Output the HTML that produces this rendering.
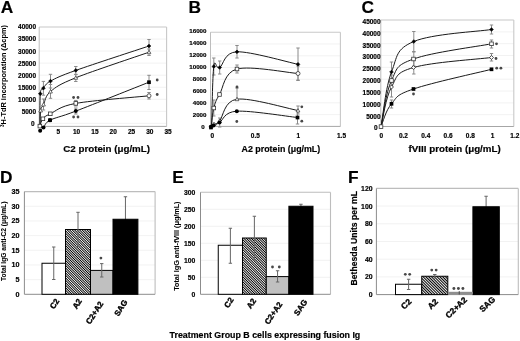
<!DOCTYPE html><html><head><meta charset="utf-8"><style>html,body{margin:0;padding:0;background:#fff;width:520px;height:341px;overflow:hidden}svg{display:block;will-change:transform}text{font-family:"Liberation Sans", sans-serif}</style></head><body>
<svg width="520" height="341" viewBox="0 0 520 341">
<defs><pattern id="hatch" patternUnits="userSpaceOnUse" width="1.75" height="1.75" patternTransform="rotate(-45)"><rect width="1.75" height="1.75" fill="#fff"/><rect x="0" y="0" width="0.92" height="1.75" fill="#000"/></pattern><pattern id="hatchF" patternUnits="userSpaceOnUse" width="1.98" height="1.98" patternTransform="rotate(-45)"><rect width="1.98" height="1.98" fill="#fff"/><rect x="0" y="0" width="1.05" height="1.98" fill="#000"/></pattern></defs>
<rect width="520" height="341" fill="#fff"/>
<text x="0.8" y="13.3" font-size="17.3" text-anchor="start" font-weight="bold" fill="#000" stroke="#000" stroke-width="0.18">A</text>
<text x="188.4" y="13.3" font-size="17.3" text-anchor="start" font-weight="bold" fill="#000" stroke="#000" stroke-width="0.18">B</text>
<text x="361.6" y="13.4" font-size="17.3" text-anchor="start" font-weight="bold" fill="#000" stroke="#000" stroke-width="0.18">C</text>
<text x="0.1" y="182.9" font-size="17.3" text-anchor="start" font-weight="bold" fill="#000" stroke="#000" stroke-width="0.18">D</text>
<text x="172.3" y="183.1" font-size="17.3" text-anchor="start" font-weight="bold" fill="#000" stroke="#000" stroke-width="0.18">E</text>
<text x="348.1" y="183.1" font-size="17.3" text-anchor="start" font-weight="bold" fill="#000" stroke="#000" stroke-width="0.18">F</text>
<line x1="39.2" y1="39.05" x2="166.6" y2="39.05" stroke="#f1f1f1" stroke-width="0.9"/>
<line x1="39.2" y1="51.1" x2="166.6" y2="51.1" stroke="#f1f1f1" stroke-width="0.9"/>
<line x1="39.2" y1="63.15" x2="166.6" y2="63.15" stroke="#f1f1f1" stroke-width="0.9"/>
<line x1="39.2" y1="75.2" x2="166.6" y2="75.2" stroke="#f1f1f1" stroke-width="0.9"/>
<line x1="39.2" y1="87.25" x2="166.6" y2="87.25" stroke="#f1f1f1" stroke-width="0.9"/>
<line x1="39.2" y1="99.3" x2="166.6" y2="99.3" stroke="#f1f1f1" stroke-width="0.9"/>
<line x1="39.2" y1="111.35" x2="166.6" y2="111.35" stroke="#f1f1f1" stroke-width="0.9"/>
<line x1="39.2" y1="123.4" x2="166.6" y2="123.4" stroke="#f1f1f1" stroke-width="0.9"/>
<line x1="39.2" y1="27" x2="166.6" y2="27" stroke="#c8c8c8" stroke-width="1.1"/>
<line x1="166.6" y1="27" x2="166.6" y2="126.4" stroke="#c8c8c8" stroke-width="1.1"/>
<line x1="39.2" y1="27" x2="39.2" y2="126.4" stroke="#bdbdbd" stroke-width="1"/>
<line x1="39.2" y1="126.4" x2="166.6" y2="126.4" stroke="#a6a6a6" stroke-width="1"/>
<text x="36.1" y="29.32" font-size="6.5" text-anchor="end" font-weight="bold" fill="#000" stroke="#000" stroke-width="0.18">40000</text>
<text x="36.1" y="41.42" font-size="6.5" text-anchor="end" font-weight="bold" fill="#000" stroke="#000" stroke-width="0.18">35000</text>
<text x="36.1" y="53.52" font-size="6.5" text-anchor="end" font-weight="bold" fill="#000" stroke="#000" stroke-width="0.18">30000</text>
<text x="36.1" y="65.62" font-size="6.5" text-anchor="end" font-weight="bold" fill="#000" stroke="#000" stroke-width="0.18">25000</text>
<text x="36.1" y="77.73" font-size="6.5" text-anchor="end" font-weight="bold" fill="#000" stroke="#000" stroke-width="0.18">20000</text>
<text x="36.1" y="89.83" font-size="6.5" text-anchor="end" font-weight="bold" fill="#000" stroke="#000" stroke-width="0.18">15000</text>
<text x="36.1" y="101.92" font-size="6.5" text-anchor="end" font-weight="bold" fill="#000" stroke="#000" stroke-width="0.18">10000</text>
<text x="36.1" y="114.03" font-size="6.5" text-anchor="end" font-weight="bold" fill="#000" stroke="#000" stroke-width="0.18">5000</text>
<text x="34.7" y="126.12" font-size="6.5" text-anchor="end" font-weight="bold" fill="#000" stroke="#000" stroke-width="0.18">0</text>
<text x="58.3" y="134" font-size="6.5" text-anchor="middle" font-weight="bold" fill="#000" stroke="#000" stroke-width="0.18">5</text>
<text x="76.6" y="134" font-size="6.5" text-anchor="middle" font-weight="bold" fill="#000" stroke="#000" stroke-width="0.18">10</text>
<text x="94.9" y="134" font-size="6.5" text-anchor="middle" font-weight="bold" fill="#000" stroke="#000" stroke-width="0.18">15</text>
<text x="113.2" y="134" font-size="6.5" text-anchor="middle" font-weight="bold" fill="#000" stroke="#000" stroke-width="0.18">20</text>
<text x="131.5" y="134" font-size="6.5" text-anchor="middle" font-weight="bold" fill="#000" stroke="#000" stroke-width="0.18">25</text>
<text x="149.8" y="134" font-size="6.5" text-anchor="middle" font-weight="bold" fill="#000" stroke="#000" stroke-width="0.18">30</text>
<text x="168.1" y="134" font-size="6.5" text-anchor="middle" font-weight="bold" fill="#000" stroke="#000" stroke-width="0.18">35</text>
<text x="63.3" y="151.8" font-size="9.75" text-anchor="start" font-weight="bold" fill="#000" stroke="#000" stroke-width="0.18">C2 protein (μg/mL)</text>
<text x="6.4" y="76" font-size="7.4" text-anchor="middle" font-weight="bold" fill="#000" transform="rotate(-90 6.4 76)" stroke="#000" stroke-width="0.02"><tspan font-size="4.6" dy="-2.4">3</tspan><tspan dy="2.4">H-TdR incorporation (Δcpm)</tspan></text>
<line x1="43.4" y1="81.4" x2="43.4" y2="95.2" stroke="#8a8a8a" stroke-width="1"/>
<line x1="41.7" y1="81.4" x2="45.1" y2="81.4" stroke="#8a8a8a" stroke-width="1"/>
<line x1="41.7" y1="95.2" x2="45.1" y2="95.2" stroke="#8a8a8a" stroke-width="1"/>
<line x1="50.5" y1="74.3" x2="50.5" y2="88" stroke="#8a8a8a" stroke-width="1"/>
<line x1="48.8" y1="74.3" x2="52.2" y2="74.3" stroke="#8a8a8a" stroke-width="1"/>
<line x1="48.8" y1="88" x2="52.2" y2="88" stroke="#8a8a8a" stroke-width="1"/>
<line x1="75.8" y1="66.5" x2="75.8" y2="74.3" stroke="#8a8a8a" stroke-width="1"/>
<line x1="74.1" y1="66.5" x2="77.5" y2="66.5" stroke="#8a8a8a" stroke-width="1"/>
<line x1="74.1" y1="74.3" x2="77.5" y2="74.3" stroke="#8a8a8a" stroke-width="1"/>
<line x1="149" y1="39.5" x2="149" y2="52.5" stroke="#8a8a8a" stroke-width="1"/>
<line x1="147.3" y1="39.5" x2="150.7" y2="39.5" stroke="#8a8a8a" stroke-width="1"/>
<line x1="147.3" y1="52.5" x2="150.7" y2="52.5" stroke="#8a8a8a" stroke-width="1"/>
<line x1="50.5" y1="84.5" x2="50.5" y2="98.3" stroke="#8a8a8a" stroke-width="1"/>
<line x1="48.8" y1="84.5" x2="52.2" y2="84.5" stroke="#8a8a8a" stroke-width="1"/>
<line x1="48.8" y1="98.3" x2="52.2" y2="98.3" stroke="#8a8a8a" stroke-width="1"/>
<line x1="75.8" y1="74.5" x2="75.8" y2="81.5" stroke="#8a8a8a" stroke-width="1"/>
<line x1="74.1" y1="74.5" x2="77.5" y2="74.5" stroke="#8a8a8a" stroke-width="1"/>
<line x1="74.1" y1="81.5" x2="77.5" y2="81.5" stroke="#8a8a8a" stroke-width="1"/>
<line x1="43.5" y1="99" x2="43.5" y2="110" stroke="#8a8a8a" stroke-width="1"/>
<line x1="41.8" y1="99" x2="45.2" y2="99" stroke="#8a8a8a" stroke-width="1"/>
<line x1="41.8" y1="110" x2="45.2" y2="110" stroke="#8a8a8a" stroke-width="1"/>
<line x1="149" y1="49" x2="149" y2="55.5" stroke="#8a8a8a" stroke-width="1"/>
<line x1="147.3" y1="49" x2="150.7" y2="49" stroke="#8a8a8a" stroke-width="1"/>
<line x1="147.3" y1="55.5" x2="150.7" y2="55.5" stroke="#8a8a8a" stroke-width="1"/>
<line x1="149" y1="75.3" x2="149" y2="89.5" stroke="#8a8a8a" stroke-width="1"/>
<line x1="147.3" y1="75.3" x2="150.7" y2="75.3" stroke="#8a8a8a" stroke-width="1"/>
<line x1="147.3" y1="89.5" x2="150.7" y2="89.5" stroke="#8a8a8a" stroke-width="1"/>
<line x1="149" y1="92.5" x2="149" y2="99" stroke="#8a8a8a" stroke-width="1"/>
<line x1="147.3" y1="92.5" x2="150.7" y2="92.5" stroke="#8a8a8a" stroke-width="1"/>
<line x1="147.3" y1="99" x2="150.7" y2="99" stroke="#8a8a8a" stroke-width="1"/>
<line x1="75.8" y1="100.5" x2="75.8" y2="106" stroke="#8a8a8a" stroke-width="1"/>
<line x1="74.1" y1="100.5" x2="77.5" y2="100.5" stroke="#8a8a8a" stroke-width="1"/>
<line x1="74.1" y1="106" x2="77.5" y2="106" stroke="#8a8a8a" stroke-width="1"/>
<line x1="75.8" y1="108" x2="75.8" y2="114" stroke="#8a8a8a" stroke-width="1"/>
<line x1="74.1" y1="108" x2="77.5" y2="108" stroke="#8a8a8a" stroke-width="1"/>
<line x1="74.1" y1="114" x2="77.5" y2="114" stroke="#8a8a8a" stroke-width="1"/>
<path d="M40 126 C40.05 120.62 39.73 100.05 40.3 93.75 C40.87 87.45 41.7 90.31 43.4 88.2 C45.1 86.09 45.1 84.07 50.5 81.1 C55.9 78.13 59.38 76.25 75.8 70.4 C92.22 64.55 136.8 50.07 149 46" fill="none" stroke="#1a1a1a" stroke-width="1"/>
<path d="M40 126 C40.1 123.42 40.02 114.08 40.6 110.5 C41.18 106.92 41.85 107.67 43.5 104.5 C45.15 101.33 45.12 95.96 50.5 91.5 C55.88 87.04 59.38 84.3 75.8 77.75 C92.22 71.2 136.8 56.46 149 52.2" fill="none" stroke="#1a1a1a" stroke-width="1"/>
<path d="M39.85 126.1 C40.36 124.88 41.16 120.85 42.9 118.8 C44.64 116.75 44.82 116.37 50.3 113.8 C55.78 111.23 59.35 106.4 75.8 103.4 C92.25 100.4 136.8 97.07 149 95.8" fill="none" stroke="#1a1a1a" stroke-width="1"/>
<path d="M40.15 130.7 C40.71 130.18 41.86 129.35 43.5 127.6 C45.14 125.85 44.62 122.95 50 120.2 C55.38 117.45 59.3 117.43 75.8 111.1 C92.3 104.77 136.8 87.02 149 82.2" fill="none" stroke="#1a1a1a" stroke-width="1"/>
<path d="M40.3 91.9L42.15 93.75L40.3 95.6L38.45 93.75Z" fill="#000" stroke="#000" stroke-width="0.6"/>
<path d="M43.4 86.35L45.25 88.2L43.4 90.05L41.55 88.2Z" fill="#000" stroke="#000" stroke-width="0.6"/>
<path d="M50.5 79.25L52.35 81.1L50.5 82.95L48.65 81.1Z" fill="#000" stroke="#000" stroke-width="0.6"/>
<path d="M75.8 68.55L77.65 70.4L75.8 72.25L73.95 70.4Z" fill="#000" stroke="#000" stroke-width="0.6"/>
<path d="M149 44.15L150.85 46L149 47.85L147.15 46Z" fill="#000" stroke="#000" stroke-width="0.6"/>
<path d="M40.6 108.6L42.5 112.02L38.7 112.02Z" fill="#fff" stroke="#333" stroke-width="0.7"/>
<path d="M43.5 102.6L45.4 106.02L41.6 106.02Z" fill="#fff" stroke="#333" stroke-width="0.7"/>
<path d="M50.5 89.6L52.4 93.02L48.6 93.02Z" fill="#fff" stroke="#333" stroke-width="0.7"/>
<path d="M75.8 75.85L77.7 79.27L73.9 79.27Z" fill="#fff" stroke="#333" stroke-width="0.7"/>
<path d="M149 50.3L150.9 53.72L147.1 53.72Z" fill="#fff" stroke="#333" stroke-width="0.7"/>
<rect x="38.05" y="124.3" width="3.6" height="3.6" fill="#fff" stroke="#333" stroke-width="0.8"/>
<rect x="41.1" y="117" width="3.6" height="3.6" fill="#fff" stroke="#333" stroke-width="0.8"/>
<rect x="48.5" y="112" width="3.6" height="3.6" fill="#fff" stroke="#333" stroke-width="0.8"/>
<rect x="74" y="101.6" width="3.6" height="3.6" fill="#fff" stroke="#333" stroke-width="0.8"/>
<circle cx="149" cy="95.8" r="2" fill="#fff" stroke="#333" stroke-width="0.8"/>
<circle cx="40.15" cy="130.7" r="2" fill="#000"/>
<circle cx="43.5" cy="127.6" r="2" fill="#000"/>
<circle cx="50" cy="120.2" r="2" fill="#000"/>
<circle cx="75.8" cy="111.1" r="2" fill="#000"/>
<rect x="147.15" y="80.35" width="3.7" height="3.7" fill="#000" stroke="none" stroke-width="1"/>
<rect x="48.15" y="118.35" width="3.7" height="3.7" fill="#000" stroke="none" stroke-width="1"/>
<circle cx="73.6" cy="97.5" r="1.4" fill="#484848"/>
<circle cx="78" cy="97.5" r="1.4" fill="#484848"/>
<circle cx="73.6" cy="117" r="1.4" fill="#484848"/>
<circle cx="78" cy="117" r="1.4" fill="#484848"/>
<circle cx="157.2" cy="80" r="1.4" fill="#484848"/>
<circle cx="157.2" cy="94.5" r="1.4" fill="#484848"/>
<line x1="210.5" y1="43.98" x2="340.4" y2="43.98" stroke="#f1f1f1" stroke-width="0.9"/>
<line x1="210.5" y1="55.75" x2="340.4" y2="55.75" stroke="#f1f1f1" stroke-width="0.9"/>
<line x1="210.5" y1="67.53" x2="340.4" y2="67.53" stroke="#f1f1f1" stroke-width="0.9"/>
<line x1="210.5" y1="79.3" x2="340.4" y2="79.3" stroke="#f1f1f1" stroke-width="0.9"/>
<line x1="210.5" y1="91.08" x2="340.4" y2="91.08" stroke="#f1f1f1" stroke-width="0.9"/>
<line x1="210.5" y1="102.85" x2="340.4" y2="102.85" stroke="#f1f1f1" stroke-width="0.9"/>
<line x1="210.5" y1="114.62" x2="340.4" y2="114.62" stroke="#f1f1f1" stroke-width="0.9"/>
<line x1="210.5" y1="32.2" x2="340.4" y2="32.2" stroke="#c8c8c8" stroke-width="1.1"/>
<line x1="340.4" y1="32.2" x2="340.4" y2="126.4" stroke="#c8c8c8" stroke-width="1.1"/>
<line x1="210.5" y1="32.2" x2="210.5" y2="126.4" stroke="#bdbdbd" stroke-width="1"/>
<line x1="210.5" y1="126.4" x2="340.4" y2="126.4" stroke="#a6a6a6" stroke-width="1"/>
<text x="206.5" y="32.81" font-size="6.2" text-anchor="end" font-weight="bold" fill="#000" stroke="#000" stroke-width="0.18">16000</text>
<text x="206.5" y="44.78" font-size="6.2" text-anchor="end" font-weight="bold" fill="#000" stroke="#000" stroke-width="0.18">14000</text>
<text x="206.5" y="56.75" font-size="6.2" text-anchor="end" font-weight="bold" fill="#000" stroke="#000" stroke-width="0.18">12000</text>
<text x="206.5" y="68.72" font-size="6.2" text-anchor="end" font-weight="bold" fill="#000" stroke="#000" stroke-width="0.18">10000</text>
<text x="206.5" y="80.69" font-size="6.2" text-anchor="end" font-weight="bold" fill="#000" stroke="#000" stroke-width="0.18">8000</text>
<text x="206.5" y="92.66" font-size="6.2" text-anchor="end" font-weight="bold" fill="#000" stroke="#000" stroke-width="0.18">6000</text>
<text x="206.5" y="104.63" font-size="6.2" text-anchor="end" font-weight="bold" fill="#000" stroke="#000" stroke-width="0.18">4000</text>
<text x="206.5" y="116.6" font-size="6.2" text-anchor="end" font-weight="bold" fill="#000" stroke="#000" stroke-width="0.18">2000</text>
<text x="204.6" y="128.57" font-size="6.2" text-anchor="end" font-weight="bold" fill="#000" stroke="#000" stroke-width="0.18">0</text>
<text x="212.2" y="137.7" font-size="6.5" text-anchor="middle" font-weight="bold" fill="#000" stroke="#000" stroke-width="0.18">0</text>
<text x="255.3" y="137.7" font-size="6.5" text-anchor="middle" font-weight="bold" fill="#000" stroke="#000" stroke-width="0.18">0.5</text>
<text x="298.4" y="137.7" font-size="6.5" text-anchor="middle" font-weight="bold" fill="#000" stroke="#000" stroke-width="0.18">1</text>
<text x="341.5" y="137.7" font-size="6.5" text-anchor="middle" font-weight="bold" fill="#000" stroke="#000" stroke-width="0.18">1.5</text>
<text x="241.6" y="151.7" font-size="8.85" text-anchor="start" font-weight="bold" fill="#000" stroke="#000" stroke-width="0.18">A2 protein (μg/mL)</text>
<line x1="213.8" y1="58" x2="213.8" y2="75" stroke="#8a8a8a" stroke-width="1"/>
<line x1="212.1" y1="58" x2="215.5" y2="58" stroke="#8a8a8a" stroke-width="1"/>
<line x1="212.1" y1="75" x2="215.5" y2="75" stroke="#8a8a8a" stroke-width="1"/>
<line x1="219.7" y1="61" x2="219.7" y2="74" stroke="#8a8a8a" stroke-width="1"/>
<line x1="218" y1="61" x2="221.4" y2="61" stroke="#8a8a8a" stroke-width="1"/>
<line x1="218" y1="74" x2="221.4" y2="74" stroke="#8a8a8a" stroke-width="1"/>
<line x1="237" y1="45.5" x2="237" y2="58" stroke="#8a8a8a" stroke-width="1"/>
<line x1="235.3" y1="45.5" x2="238.7" y2="45.5" stroke="#8a8a8a" stroke-width="1"/>
<line x1="235.3" y1="58" x2="238.7" y2="58" stroke="#8a8a8a" stroke-width="1"/>
<line x1="298" y1="48" x2="298" y2="80" stroke="#8a8a8a" stroke-width="1"/>
<line x1="296.3" y1="48" x2="299.7" y2="48" stroke="#8a8a8a" stroke-width="1"/>
<line x1="296.3" y1="80" x2="299.7" y2="80" stroke="#8a8a8a" stroke-width="1"/>
<line x1="237" y1="65" x2="237" y2="73" stroke="#8a8a8a" stroke-width="1"/>
<line x1="235.3" y1="65" x2="238.7" y2="65" stroke="#8a8a8a" stroke-width="1"/>
<line x1="235.3" y1="73" x2="238.7" y2="73" stroke="#8a8a8a" stroke-width="1"/>
<line x1="298" y1="66" x2="298" y2="80.5" stroke="#8a8a8a" stroke-width="1"/>
<line x1="296.3" y1="66" x2="299.7" y2="66" stroke="#8a8a8a" stroke-width="1"/>
<line x1="296.3" y1="80.5" x2="299.7" y2="80.5" stroke="#8a8a8a" stroke-width="1"/>
<line x1="237" y1="88" x2="237" y2="100" stroke="#8a8a8a" stroke-width="1"/>
<line x1="235.3" y1="88" x2="238.7" y2="88" stroke="#8a8a8a" stroke-width="1"/>
<line x1="235.3" y1="100" x2="238.7" y2="100" stroke="#8a8a8a" stroke-width="1"/>
<line x1="298" y1="106" x2="298" y2="114" stroke="#8a8a8a" stroke-width="1"/>
<line x1="296.3" y1="106" x2="299.7" y2="106" stroke="#8a8a8a" stroke-width="1"/>
<line x1="296.3" y1="114" x2="299.7" y2="114" stroke="#8a8a8a" stroke-width="1"/>
<line x1="297.5" y1="111" x2="297.5" y2="124" stroke="#8a8a8a" stroke-width="1"/>
<line x1="295.8" y1="111" x2="299.2" y2="111" stroke="#8a8a8a" stroke-width="1"/>
<line x1="295.8" y1="124" x2="299.2" y2="124" stroke="#8a8a8a" stroke-width="1"/>
<line x1="219.7" y1="118" x2="219.7" y2="127" stroke="#8a8a8a" stroke-width="1"/>
<line x1="218" y1="118" x2="221.4" y2="118" stroke="#8a8a8a" stroke-width="1"/>
<line x1="218" y1="127" x2="221.4" y2="127" stroke="#8a8a8a" stroke-width="1"/>
<line x1="213.8" y1="100" x2="213.8" y2="116" stroke="#8a8a8a" stroke-width="1"/>
<line x1="212.1" y1="100" x2="215.5" y2="100" stroke="#8a8a8a" stroke-width="1"/>
<line x1="212.1" y1="116" x2="215.5" y2="116" stroke="#8a8a8a" stroke-width="1"/>
<path d="M211.6 126.2 C211.97 116.25 212.45 76.28 213.8 66.5 C215.15 56.72 215.83 69.95 219.7 67.5 C223.57 65.05 223.95 52.33 237 51.8 C250.05 51.27 287.83 62.22 298 64.3" fill="none" stroke="#1a1a1a" stroke-width="1"/>
<path d="M211.3 126.2 C211.72 123.17 212.43 113.28 213.8 108 C215.17 102.72 215.63 101 219.5 94.5 C223.37 88 223.92 72.5 237 69 C250.08 65.5 287.83 72.75 298 73.5" fill="none" stroke="#1a1a1a" stroke-width="1"/>
<path d="M211 126.2 C211.5 125.83 212.58 124.87 214 124 C215.42 123.13 215.67 125.13 219.5 121 C223.33 116.87 223.92 100.95 237 99.2 C250.08 97.45 287.83 108.62 298 110.5" fill="none" stroke="#1a1a1a" stroke-width="1"/>
<path d="M210.8 126.8 C211.25 126.58 212.05 126.22 213.5 125.5 C214.95 124.78 215.62 124.88 219.5 122.5 C223.38 120.12 223.8 112.03 236.8 111.2 C249.8 110.37 287.38 116.45 297.5 117.5" fill="none" stroke="#1a1a1a" stroke-width="1"/>
<path d="M213.8 64.65L215.65 66.5L213.8 68.35L211.95 66.5Z" fill="#000" stroke="#000" stroke-width="0.6"/>
<path d="M219.7 65.65L221.55 67.5L219.7 69.35L217.85 67.5Z" fill="#000" stroke="#000" stroke-width="0.6"/>
<path d="M237 49.95L238.85 51.8L237 53.65L235.15 51.8Z" fill="#000" stroke="#000" stroke-width="0.6"/>
<path d="M298 62.45L299.85 64.3L298 66.15L296.15 64.3Z" fill="#000" stroke="#000" stroke-width="0.6"/>
<rect x="212" y="106.2" width="3.6" height="3.6" fill="#fff" stroke="#333" stroke-width="0.8"/>
<rect x="217.7" y="92.7" width="3.6" height="3.6" fill="#fff" stroke="#333" stroke-width="0.8"/>
<rect x="235.2" y="67.2" width="3.6" height="3.6" fill="#fff" stroke="#333" stroke-width="0.8"/>
<circle cx="298" cy="73.5" r="2" fill="#fff" stroke="#333" stroke-width="0.8"/>
<path d="M214 122.1L215.9 125.52L212.1 125.52Z" fill="#fff" stroke="#333" stroke-width="0.7"/>
<path d="M219.5 119.1L221.4 122.52L217.6 122.52Z" fill="#fff" stroke="#333" stroke-width="0.7"/>
<path d="M237 97.3L238.9 100.72L235.1 100.72Z" fill="#fff" stroke="#333" stroke-width="0.7"/>
<path d="M298 108.6L299.9 112.02L296.1 112.02Z" fill="#fff" stroke="#333" stroke-width="0.7"/>
<circle cx="210.8" cy="126.8" r="2" fill="#000"/>
<circle cx="213.5" cy="125.5" r="2" fill="#000"/>
<circle cx="219.5" cy="122.5" r="2" fill="#000"/>
<circle cx="236.8" cy="111.2" r="2" fill="#000"/>
<rect x="295.65" y="115.65" width="3.7" height="3.7" fill="#000" stroke="none" stroke-width="1"/>
<rect x="209.15" y="125.65" width="3.7" height="3.7" fill="#000" stroke="none" stroke-width="1"/>
<circle cx="237" cy="87" r="1.4" fill="#484848"/>
<circle cx="236.8" cy="121.5" r="1.4" fill="#484848"/>
<circle cx="301.8" cy="106.8" r="1.4" fill="#484848"/>
<circle cx="301.8" cy="121.2" r="1.4" fill="#484848"/>
<line x1="380.8" y1="31.83" x2="513.8" y2="31.83" stroke="#f1f1f1" stroke-width="0.9"/>
<line x1="380.8" y1="43.67" x2="513.8" y2="43.67" stroke="#f1f1f1" stroke-width="0.9"/>
<line x1="380.8" y1="55.5" x2="513.8" y2="55.5" stroke="#f1f1f1" stroke-width="0.9"/>
<line x1="380.8" y1="67.33" x2="513.8" y2="67.33" stroke="#f1f1f1" stroke-width="0.9"/>
<line x1="380.8" y1="79.17" x2="513.8" y2="79.17" stroke="#f1f1f1" stroke-width="0.9"/>
<line x1="380.8" y1="91" x2="513.8" y2="91" stroke="#f1f1f1" stroke-width="0.9"/>
<line x1="380.8" y1="102.83" x2="513.8" y2="102.83" stroke="#f1f1f1" stroke-width="0.9"/>
<line x1="380.8" y1="114.67" x2="513.8" y2="114.67" stroke="#f1f1f1" stroke-width="0.9"/>
<line x1="380.8" y1="20" x2="513.8" y2="20" stroke="#c8c8c8" stroke-width="1.1"/>
<line x1="513.8" y1="20" x2="513.8" y2="126.5" stroke="#c8c8c8" stroke-width="1.1"/>
<line x1="380.8" y1="20" x2="380.8" y2="126.5" stroke="#bdbdbd" stroke-width="1"/>
<line x1="380.8" y1="126.5" x2="513.8" y2="126.5" stroke="#a6a6a6" stroke-width="1"/>
<text x="380.6" y="23.82" font-size="6.5" text-anchor="end" font-weight="bold" fill="#000" stroke="#000" stroke-width="0.18">45000</text>
<text x="380.6" y="35.66" font-size="6.5" text-anchor="end" font-weight="bold" fill="#000" stroke="#000" stroke-width="0.18">40000</text>
<text x="380.6" y="47.51" font-size="6.5" text-anchor="end" font-weight="bold" fill="#000" stroke="#000" stroke-width="0.18">35000</text>
<text x="380.6" y="59.34" font-size="6.5" text-anchor="end" font-weight="bold" fill="#000" stroke="#000" stroke-width="0.18">30000</text>
<text x="380.6" y="71.19" font-size="6.5" text-anchor="end" font-weight="bold" fill="#000" stroke="#000" stroke-width="0.18">25000</text>
<text x="380.6" y="83.03" font-size="6.5" text-anchor="end" font-weight="bold" fill="#000" stroke="#000" stroke-width="0.18">20000</text>
<text x="380.6" y="94.86" font-size="6.5" text-anchor="end" font-weight="bold" fill="#000" stroke="#000" stroke-width="0.18">15000</text>
<text x="380.6" y="106.7" font-size="6.5" text-anchor="end" font-weight="bold" fill="#000" stroke="#000" stroke-width="0.18">10000</text>
<text x="380.6" y="118.55" font-size="6.5" text-anchor="end" font-weight="bold" fill="#000" stroke="#000" stroke-width="0.18">5000</text>
<text x="377.5" y="130.39" font-size="6.5" text-anchor="end" font-weight="bold" fill="#000" stroke="#000" stroke-width="0.18">0</text>
<text x="381.2" y="138.3" font-size="6.5" text-anchor="middle" font-weight="bold" fill="#000" stroke="#000" stroke-width="0.18">0</text>
<text x="403.48" y="138.3" font-size="6.5" text-anchor="middle" font-weight="bold" fill="#000" stroke="#000" stroke-width="0.18">0.2</text>
<text x="425.76" y="138.3" font-size="6.5" text-anchor="middle" font-weight="bold" fill="#000" stroke="#000" stroke-width="0.18">0.4</text>
<text x="448.04" y="138.3" font-size="6.5" text-anchor="middle" font-weight="bold" fill="#000" stroke="#000" stroke-width="0.18">0.6</text>
<text x="470.32" y="138.3" font-size="6.5" text-anchor="middle" font-weight="bold" fill="#000" stroke="#000" stroke-width="0.18">0.8</text>
<text x="492.6" y="138.3" font-size="6.5" text-anchor="middle" font-weight="bold" fill="#000" stroke="#000" stroke-width="0.18">1</text>
<text x="514.88" y="138.3" font-size="6.5" text-anchor="middle" font-weight="bold" fill="#000" stroke="#000" stroke-width="0.18">1.2</text>
<text x="408.6" y="151.6" font-size="9.75" text-anchor="start" font-weight="bold" fill="#000" stroke="#000" stroke-width="0.18">fVIII protein (μg/mL)</text>
<line x1="391.5" y1="62" x2="391.5" y2="82" stroke="#8a8a8a" stroke-width="1"/>
<line x1="389.8" y1="62" x2="393.2" y2="62" stroke="#8a8a8a" stroke-width="1"/>
<line x1="389.8" y1="82" x2="393.2" y2="82" stroke="#8a8a8a" stroke-width="1"/>
<line x1="413.8" y1="31.5" x2="413.8" y2="51.5" stroke="#8a8a8a" stroke-width="1"/>
<line x1="412.1" y1="31.5" x2="415.5" y2="31.5" stroke="#8a8a8a" stroke-width="1"/>
<line x1="412.1" y1="51.5" x2="415.5" y2="51.5" stroke="#8a8a8a" stroke-width="1"/>
<line x1="491.5" y1="25" x2="491.5" y2="34" stroke="#8a8a8a" stroke-width="1"/>
<line x1="489.8" y1="25" x2="493.2" y2="25" stroke="#8a8a8a" stroke-width="1"/>
<line x1="489.8" y1="34" x2="493.2" y2="34" stroke="#8a8a8a" stroke-width="1"/>
<line x1="391.5" y1="75" x2="391.5" y2="86" stroke="#8a8a8a" stroke-width="1"/>
<line x1="389.8" y1="75" x2="393.2" y2="75" stroke="#8a8a8a" stroke-width="1"/>
<line x1="389.8" y1="86" x2="393.2" y2="86" stroke="#8a8a8a" stroke-width="1"/>
<line x1="413.8" y1="52" x2="413.8" y2="66" stroke="#8a8a8a" stroke-width="1"/>
<line x1="412.1" y1="52" x2="415.5" y2="52" stroke="#8a8a8a" stroke-width="1"/>
<line x1="412.1" y1="66" x2="415.5" y2="66" stroke="#8a8a8a" stroke-width="1"/>
<line x1="491.5" y1="40" x2="491.5" y2="48" stroke="#8a8a8a" stroke-width="1"/>
<line x1="489.8" y1="40" x2="493.2" y2="40" stroke="#8a8a8a" stroke-width="1"/>
<line x1="489.8" y1="48" x2="493.2" y2="48" stroke="#8a8a8a" stroke-width="1"/>
<line x1="391.5" y1="82" x2="391.5" y2="97" stroke="#8a8a8a" stroke-width="1"/>
<line x1="389.8" y1="82" x2="393.2" y2="82" stroke="#8a8a8a" stroke-width="1"/>
<line x1="389.8" y1="97" x2="393.2" y2="97" stroke="#8a8a8a" stroke-width="1"/>
<line x1="413.8" y1="60" x2="413.8" y2="74" stroke="#8a8a8a" stroke-width="1"/>
<line x1="412.1" y1="60" x2="415.5" y2="60" stroke="#8a8a8a" stroke-width="1"/>
<line x1="412.1" y1="74" x2="415.5" y2="74" stroke="#8a8a8a" stroke-width="1"/>
<line x1="491.5" y1="53.5" x2="491.5" y2="61" stroke="#8a8a8a" stroke-width="1"/>
<line x1="489.8" y1="53.5" x2="493.2" y2="53.5" stroke="#8a8a8a" stroke-width="1"/>
<line x1="489.8" y1="61" x2="493.2" y2="61" stroke="#8a8a8a" stroke-width="1"/>
<line x1="391.5" y1="100" x2="391.5" y2="108" stroke="#8a8a8a" stroke-width="1"/>
<line x1="389.8" y1="100" x2="393.2" y2="100" stroke="#8a8a8a" stroke-width="1"/>
<line x1="389.8" y1="108" x2="393.2" y2="108" stroke="#8a8a8a" stroke-width="1"/>
<path d="M381 126.6 C382.93 116.59 385.49 87.6 391.5 72 C397.51 56.4 395.47 49.29 413.8 41.5 C432.13 33.71 477.25 31.7 491.5 29.5" fill="none" stroke="#1a1a1a" stroke-width="1"/>
<path d="M381 126.6 C382.93 118.15 385.54 92.89 391.5 80.5 C397.46 68.11 395.17 65.73 413.5 59 C431.83 52.27 477.2 46.59 491.5 43.8" fill="none" stroke="#1a1a1a" stroke-width="1"/>
<path d="M381 126.6 C382.93 119.34 385.54 97.83 391.5 87 C397.46 76.17 395.17 72.91 413.5 67.5 C431.83 62.09 477.2 59.33 491.5 57.5" fill="none" stroke="#1a1a1a" stroke-width="1"/>
<path d="M381 126.6 C382.93 122.42 385.54 110.69 391.5 103.8 C397.46 96.91 395.17 95.33 413.5 89 C431.83 82.67 477.2 72.91 491.5 69.3" fill="none" stroke="#1a1a1a" stroke-width="1"/>
<path d="M391.5 70.15L393.35 72L391.5 73.85L389.65 72Z" fill="#000" stroke="#000" stroke-width="0.6"/>
<path d="M413.8 39.65L415.65 41.5L413.8 43.35L411.95 41.5Z" fill="#000" stroke="#000" stroke-width="0.6"/>
<path d="M491.5 27.65L493.35 29.5L491.5 31.35L489.65 29.5Z" fill="#000" stroke="#000" stroke-width="0.6"/>
<rect x="389.7" y="78.7" width="3.6" height="3.6" fill="#fff" stroke="#333" stroke-width="0.8"/>
<rect x="411.7" y="57.2" width="3.6" height="3.6" fill="#fff" stroke="#333" stroke-width="0.8"/>
<rect x="489.7" y="42" width="3.6" height="3.6" fill="#fff" stroke="#333" stroke-width="0.8"/>
<path d="M391.5 85.05L393.45 87L391.5 88.95L389.55 87Z" fill="#fff" stroke="#222" stroke-width="0.8"/>
<path d="M413.5 65.55L415.45 67.5L413.5 69.45L411.55 67.5Z" fill="#fff" stroke="#222" stroke-width="0.8"/>
<path d="M491.5 55.55L493.45 57.5L491.5 59.45L489.55 57.5Z" fill="#fff" stroke="#222" stroke-width="0.8"/>
<rect x="389.65" y="101.95" width="3.7" height="3.7" fill="#000" stroke="none" stroke-width="1"/>
<rect x="411.65" y="87.15" width="3.7" height="3.7" fill="#000" stroke="none" stroke-width="1"/>
<rect x="489.65" y="67.45" width="3.7" height="3.7" fill="#000" stroke="none" stroke-width="1"/>
<rect x="379.2" y="124.8" width="3.6" height="3.6" fill="#fff" stroke="#333" stroke-width="0.8"/>
<circle cx="496.5" cy="43.8" r="1.4" fill="#484848"/>
<circle cx="496" cy="58.5" r="1.4" fill="#484848"/>
<circle cx="496.7" cy="68.2" r="1.4" fill="#484848"/>
<circle cx="500.9" cy="68.2" r="1.4" fill="#484848"/>
<circle cx="413.5" cy="94" r="1.4" fill="#484848"/>
<line x1="24.4" y1="206.27" x2="155.1" y2="206.27" stroke="#f1f1f1" stroke-width="0.9"/>
<line x1="24.4" y1="220.94" x2="155.1" y2="220.94" stroke="#f1f1f1" stroke-width="0.9"/>
<line x1="24.4" y1="235.61" x2="155.1" y2="235.61" stroke="#f1f1f1" stroke-width="0.9"/>
<line x1="24.4" y1="250.29" x2="155.1" y2="250.29" stroke="#f1f1f1" stroke-width="0.9"/>
<line x1="24.4" y1="264.96" x2="155.1" y2="264.96" stroke="#f1f1f1" stroke-width="0.9"/>
<line x1="24.4" y1="279.63" x2="155.1" y2="279.63" stroke="#f1f1f1" stroke-width="0.9"/>
<line x1="24.4" y1="191.6" x2="155.1" y2="191.6" stroke="#bdbdbd" stroke-width="1.1"/>
<line x1="155.1" y1="191.6" x2="155.1" y2="294.3" stroke="#bdbdbd" stroke-width="1.1"/>
<line x1="24.4" y1="191.6" x2="24.4" y2="294.3" stroke="#8c8c8c" stroke-width="1"/>
<line x1="24.4" y1="294.3" x2="155.1" y2="294.3" stroke="#8c8c8c" stroke-width="1"/>
<text x="19.6" y="194.12" font-size="7.2" text-anchor="end" font-weight="bold" fill="#000" stroke="#000" stroke-width="0.18">35</text>
<text x="19.6" y="208.79" font-size="7.2" text-anchor="end" font-weight="bold" fill="#000" stroke="#000" stroke-width="0.18">30</text>
<text x="19.6" y="223.46" font-size="7.2" text-anchor="end" font-weight="bold" fill="#000" stroke="#000" stroke-width="0.18">25</text>
<text x="19.6" y="238.13" font-size="7.2" text-anchor="end" font-weight="bold" fill="#000" stroke="#000" stroke-width="0.18">20</text>
<text x="19.6" y="252.81" font-size="7.2" text-anchor="end" font-weight="bold" fill="#000" stroke="#000" stroke-width="0.18">15</text>
<text x="19.6" y="267.48" font-size="7.2" text-anchor="end" font-weight="bold" fill="#000" stroke="#000" stroke-width="0.18">10</text>
<text x="19.6" y="282.15" font-size="7.2" text-anchor="end" font-weight="bold" fill="#000" stroke="#000" stroke-width="0.18">5</text>
<text x="19.6" y="296.82" font-size="7.2" text-anchor="end" font-weight="bold" fill="#000" stroke="#000" stroke-width="0.18">0</text>
<rect x="42" y="263.25" width="23.5" height="31.05" fill="#fff" stroke="#000" stroke-width="1"/>
<line x1="53.75" y1="247" x2="53.75" y2="279.5" stroke="#666666" stroke-width="1"/>
<line x1="52.05" y1="247" x2="55.45" y2="247" stroke="#666666" stroke-width="1"/>
<line x1="52.05" y1="279.5" x2="55.45" y2="279.5" stroke="#666666" stroke-width="1"/>
<rect x="65.5" y="229.5" width="25" height="64.8" fill="url(#hatch)" stroke="#000" stroke-width="1"/>
<line x1="78" y1="212.3" x2="78" y2="246.7" stroke="#666666" stroke-width="1"/>
<line x1="76.3" y1="212.3" x2="79.7" y2="212.3" stroke="#666666" stroke-width="1"/>
<line x1="76.3" y1="246.7" x2="79.7" y2="246.7" stroke="#666666" stroke-width="1"/>
<rect x="90.5" y="270.4" width="22.5" height="23.9" fill="#c0c0c0" stroke="#000" stroke-width="1"/>
<line x1="101.75" y1="263.6" x2="101.75" y2="277" stroke="#666666" stroke-width="1"/>
<line x1="100.05" y1="263.6" x2="103.45" y2="263.6" stroke="#666666" stroke-width="1"/>
<line x1="100.05" y1="277" x2="103.45" y2="277" stroke="#666666" stroke-width="1"/>
<line x1="125.45" y1="196.75" x2="125.45" y2="242" stroke="#666666" stroke-width="1"/>
<line x1="123.75" y1="196.75" x2="127.15" y2="196.75" stroke="#666666" stroke-width="1"/>
<line x1="123.75" y1="242" x2="127.15" y2="242" stroke="#666666" stroke-width="1"/>
<rect x="113" y="219.25" width="24.9" height="75.05" fill="#000" stroke="#000" stroke-width="1"/>
<text x="59.7" y="300.9" font-size="8" text-anchor="end" font-weight="bold" fill="#000" transform="rotate(-57 59.7 300.9)" stroke="#000" stroke-width="0.35">C2</text>
<text x="82.3" y="300.9" font-size="8" text-anchor="end" font-weight="bold" fill="#000" transform="rotate(-57 82.3 300.9)" stroke="#000" stroke-width="0.35">A2</text>
<text x="103.7" y="303.7" font-size="8" text-anchor="end" font-weight="bold" fill="#000" transform="rotate(-57 103.7 303.7)" stroke="#000" stroke-width="0.35">C2+A2</text>
<text x="127.9" y="302.1" font-size="8" text-anchor="end" font-weight="bold" fill="#000" transform="rotate(-57 127.9 302.1)" stroke="#000" stroke-width="0.35">SAG</text>
<circle cx="100.9" cy="258.1" r="1.4" fill="#484848"/>
<text x="6.1" y="241.3" font-size="6.7" text-anchor="middle" font-weight="bold" fill="#000" transform="rotate(-90 6.1 241.3)" stroke="#000" stroke-width="0.05">Total IgG anti-C2 (μg/mL)</text>
<line x1="200.5" y1="209.3" x2="330.5" y2="209.3" stroke="#f1f1f1" stroke-width="0.9"/>
<line x1="200.5" y1="226.3" x2="330.5" y2="226.3" stroke="#f1f1f1" stroke-width="0.9"/>
<line x1="200.5" y1="243.3" x2="330.5" y2="243.3" stroke="#f1f1f1" stroke-width="0.9"/>
<line x1="200.5" y1="260.3" x2="330.5" y2="260.3" stroke="#f1f1f1" stroke-width="0.9"/>
<line x1="200.5" y1="277.3" x2="330.5" y2="277.3" stroke="#f1f1f1" stroke-width="0.9"/>
<line x1="200.5" y1="192.3" x2="330.5" y2="192.3" stroke="#bdbdbd" stroke-width="1.1"/>
<line x1="330.5" y1="192.3" x2="330.5" y2="294.3" stroke="#bdbdbd" stroke-width="1.1"/>
<line x1="200.5" y1="192.3" x2="200.5" y2="294.3" stroke="#8c8c8c" stroke-width="1"/>
<line x1="200.5" y1="294.3" x2="330.5" y2="294.3" stroke="#8c8c8c" stroke-width="1"/>
<text x="195.4" y="194.68" font-size="6.8" text-anchor="end" font-weight="bold" fill="#000" stroke="#000" stroke-width="0.18">300</text>
<text x="195.4" y="211.68" font-size="6.8" text-anchor="end" font-weight="bold" fill="#000" stroke="#000" stroke-width="0.18">250</text>
<text x="195.4" y="228.68" font-size="6.8" text-anchor="end" font-weight="bold" fill="#000" stroke="#000" stroke-width="0.18">200</text>
<text x="195.4" y="245.68" font-size="6.8" text-anchor="end" font-weight="bold" fill="#000" stroke="#000" stroke-width="0.18">150</text>
<text x="195.4" y="262.68" font-size="6.8" text-anchor="end" font-weight="bold" fill="#000" stroke="#000" stroke-width="0.18">100</text>
<text x="195.4" y="279.68" font-size="6.8" text-anchor="end" font-weight="bold" fill="#000" stroke="#000" stroke-width="0.18">50</text>
<text x="195.4" y="296.68" font-size="6.8" text-anchor="end" font-weight="bold" fill="#000" stroke="#000" stroke-width="0.18">0</text>
<rect x="218.25" y="245.25" width="24.25" height="49.05" fill="#fff" stroke="#000" stroke-width="1"/>
<line x1="230.38" y1="228.25" x2="230.38" y2="263.25" stroke="#666666" stroke-width="1"/>
<line x1="228.68" y1="228.25" x2="232.07" y2="228.25" stroke="#666666" stroke-width="1"/>
<line x1="228.68" y1="263.25" x2="232.07" y2="263.25" stroke="#666666" stroke-width="1"/>
<rect x="242.5" y="238" width="23.75" height="56.3" fill="url(#hatch)" stroke="#000" stroke-width="1"/>
<line x1="254.38" y1="216.25" x2="254.38" y2="260" stroke="#666666" stroke-width="1"/>
<line x1="252.68" y1="216.25" x2="256.07" y2="216.25" stroke="#666666" stroke-width="1"/>
<line x1="252.68" y1="260" x2="256.07" y2="260" stroke="#666666" stroke-width="1"/>
<rect x="266.25" y="276.6" width="22.65" height="17.7" fill="#c0c0c0" stroke="#000" stroke-width="1"/>
<line x1="277.57" y1="270.75" x2="277.57" y2="282" stroke="#666666" stroke-width="1"/>
<line x1="275.88" y1="270.75" x2="279.27" y2="270.75" stroke="#666666" stroke-width="1"/>
<line x1="275.88" y1="282" x2="279.27" y2="282" stroke="#666666" stroke-width="1"/>
<line x1="300.95" y1="204.25" x2="300.95" y2="208.25" stroke="#666666" stroke-width="1"/>
<line x1="299.25" y1="204.25" x2="302.65" y2="204.25" stroke="#666666" stroke-width="1"/>
<line x1="299.25" y1="208.25" x2="302.65" y2="208.25" stroke="#666666" stroke-width="1"/>
<rect x="288.9" y="206.25" width="24.1" height="88.05" fill="#000" stroke="#000" stroke-width="1"/>
<text x="233.9" y="299.9" font-size="8" text-anchor="end" font-weight="bold" fill="#000" transform="rotate(-56 233.9 299.9)" stroke="#000" stroke-width="0.35">C2</text>
<text x="256.6" y="300.7" font-size="8" text-anchor="end" font-weight="bold" fill="#000" transform="rotate(-56 256.6 300.7)" stroke="#000" stroke-width="0.35">A2</text>
<text x="282.7" y="304.2" font-size="8" text-anchor="end" font-weight="bold" fill="#000" transform="rotate(-56 282.7 304.2)" stroke="#000" stroke-width="0.35">C2+A2</text>
<text x="307.8" y="301.9" font-size="8" text-anchor="end" font-weight="bold" fill="#000" transform="rotate(-56 307.8 301.9)" stroke="#000" stroke-width="0.35">SAG</text>
<circle cx="272.5" cy="267" r="1.4" fill="#484848"/>
<circle cx="279.3" cy="267" r="1.4" fill="#484848"/>
<text x="179" y="246.2" font-size="7.2" text-anchor="middle" font-weight="bold" fill="#000" transform="rotate(-90 179 246.2)" stroke="#000" stroke-width="0.05">Total IgG anti-fVIII (μg/mL)</text>
<line x1="376.4" y1="206.1" x2="518.3" y2="206.1" stroke="#f1f1f1" stroke-width="0.9"/>
<line x1="376.4" y1="223.8" x2="518.3" y2="223.8" stroke="#f1f1f1" stroke-width="0.9"/>
<line x1="376.4" y1="241.5" x2="518.3" y2="241.5" stroke="#f1f1f1" stroke-width="0.9"/>
<line x1="376.4" y1="259.2" x2="518.3" y2="259.2" stroke="#f1f1f1" stroke-width="0.9"/>
<line x1="376.4" y1="276.9" x2="518.3" y2="276.9" stroke="#f1f1f1" stroke-width="0.9"/>
<line x1="376.4" y1="188.4" x2="518.3" y2="188.4" stroke="#bdbdbd" stroke-width="1.1"/>
<line x1="518.3" y1="188.4" x2="518.3" y2="294.6" stroke="#bdbdbd" stroke-width="1.1"/>
<line x1="376.4" y1="188.4" x2="376.4" y2="294.6" stroke="#8c8c8c" stroke-width="1"/>
<line x1="376.4" y1="294.6" x2="518.3" y2="294.6" stroke="#8c8c8c" stroke-width="1"/>
<text x="372.6" y="190.81" font-size="6.9" text-anchor="end" font-weight="bold" fill="#000" stroke="#000" stroke-width="0.18">120</text>
<text x="372.6" y="208.52" font-size="6.9" text-anchor="end" font-weight="bold" fill="#000" stroke="#000" stroke-width="0.18">100</text>
<text x="372.6" y="226.22" font-size="6.9" text-anchor="end" font-weight="bold" fill="#000" stroke="#000" stroke-width="0.18">80</text>
<text x="372.6" y="243.91" font-size="6.9" text-anchor="end" font-weight="bold" fill="#000" stroke="#000" stroke-width="0.18">60</text>
<text x="372.6" y="261.62" font-size="6.9" text-anchor="end" font-weight="bold" fill="#000" stroke="#000" stroke-width="0.18">40</text>
<text x="372.6" y="279.32" font-size="6.9" text-anchor="end" font-weight="bold" fill="#000" stroke="#000" stroke-width="0.18">20</text>
<text x="372.6" y="297.02" font-size="6.9" text-anchor="end" font-weight="bold" fill="#000" stroke="#000" stroke-width="0.18">0</text>
<rect x="395.5" y="284.25" width="26.25" height="10.35" fill="#fff" stroke="#000" stroke-width="1"/>
<line x1="408.62" y1="279.25" x2="408.62" y2="289.5" stroke="#666666" stroke-width="1"/>
<line x1="406.93" y1="279.25" x2="410.32" y2="279.25" stroke="#666666" stroke-width="1"/>
<line x1="406.93" y1="289.5" x2="410.32" y2="289.5" stroke="#666666" stroke-width="1"/>
<rect x="421.75" y="276.25" width="26.05" height="18.35" fill="url(#hatchF)" stroke="#000" stroke-width="1"/>
<line x1="434.77" y1="274.5" x2="434.77" y2="278" stroke="#666666" stroke-width="1"/>
<line x1="433.07" y1="274.5" x2="436.47" y2="274.5" stroke="#666666" stroke-width="1"/>
<line x1="433.07" y1="278" x2="436.47" y2="278" stroke="#666666" stroke-width="1"/>
<line x1="486.1" y1="196.25" x2="486.1" y2="217" stroke="#666666" stroke-width="1"/>
<line x1="484.4" y1="196.25" x2="487.8" y2="196.25" stroke="#666666" stroke-width="1"/>
<line x1="484.4" y1="217" x2="487.8" y2="217" stroke="#666666" stroke-width="1"/>
<rect x="472.9" y="206.75" width="26.4" height="87.85" fill="#000" stroke="#000" stroke-width="1"/>
<text x="412" y="302.4" font-size="8.3" text-anchor="end" font-weight="bold" fill="#000" transform="rotate(-44 412 302.4)" stroke="#000" stroke-width="0.35">C2</text>
<text x="438.6" y="302.3" font-size="8.3" text-anchor="end" font-weight="bold" fill="#000" transform="rotate(-44 438.6 302.3)" stroke="#000" stroke-width="0.35">A2</text>
<text x="467.5" y="300.6" font-size="8.3" text-anchor="end" font-weight="bold" fill="#000" transform="rotate(-44 467.5 300.6)" stroke="#000" stroke-width="0.35">C2+A2</text>
<text x="495.8" y="300" font-size="8.3" text-anchor="end" font-weight="bold" fill="#000" transform="rotate(-44 495.8 300)" stroke="#000" stroke-width="0.35">SAG</text>
<circle cx="405.3" cy="274.3" r="1.4" fill="#484848"/>
<circle cx="409.7" cy="274.3" r="1.4" fill="#484848"/>
<circle cx="431.75" cy="270.1" r="1.4" fill="#484848"/>
<circle cx="436.15" cy="270.1" r="1.4" fill="#484848"/>
<circle cx="453.9" cy="288.5" r="1.45" fill="#484848"/>
<circle cx="458.4" cy="288.5" r="1.45" fill="#484848"/>
<circle cx="462.9" cy="288.5" r="1.45" fill="#484848"/>
<rect x="447.8" y="291.8" width="25.1" height="2.7" fill="#8e8e8e" stroke="none" stroke-width="1"/>
<line x1="459.3" y1="291.2" x2="459.3" y2="294.4" stroke="#555" stroke-width="1.2"/>
<text x="356.6" y="238.3" font-size="8.7" text-anchor="middle" font-weight="bold" fill="#000" transform="rotate(-90 356.6 238.3)" stroke="#000" stroke-width="0.18">Bethesda Units per mL</text>
<text x="169.6" y="338.4" font-size="8.85" text-anchor="start" font-weight="bold" fill="#000" stroke="#000" stroke-width="0.18">Treatment Group B cells expressing fusion Ig</text>
</svg></body></html>
